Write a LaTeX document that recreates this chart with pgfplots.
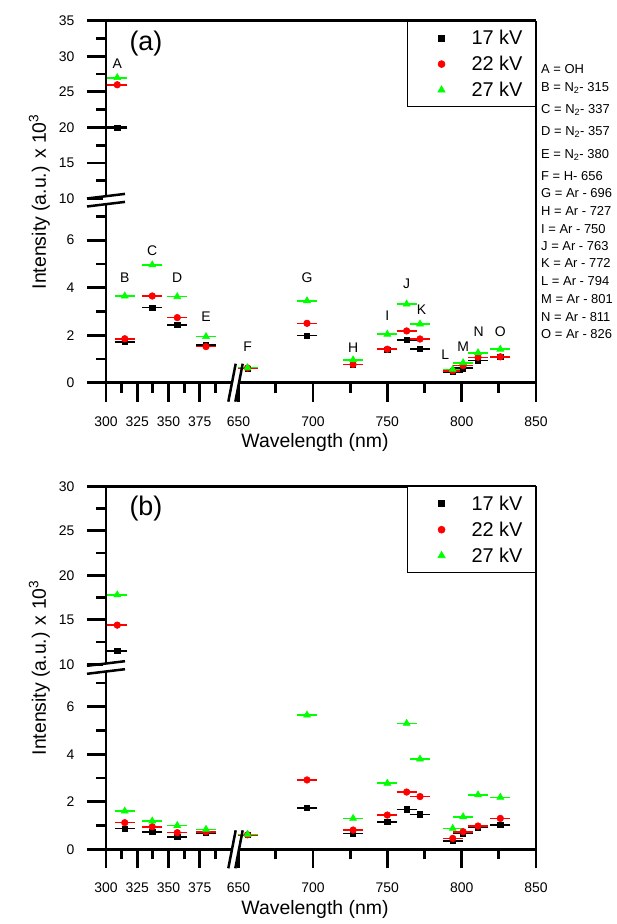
\documentclass[border=0pt]{standalone}
\usepackage{pgfplots}
\pgfplotsset{compat=1.18}
\usepackage{pgfplotstable}
\usepackage{fontspec}
\setmainfont{Liberation Sans}
\definecolor{lgreen}{RGB}{0,255,0}
\definecolor{lred}{RGB}{255,0,0}

% columns: wavelength, 17 kV, err, 22 kV, err, 27 kV, err
\pgfplotstableread{
lam k17 e17 k22 e22 k27 e27
309 20.0 0.35 26.0 0.35 27.0 0.35
315 1.71 0.08 1.85 0.08 3.65 0.08
337 3.17 0.08 3.65 0.08 4.96 0.08
357 2.43 0.08 2.74 0.08 3.62 0.08
380 1.58 0.08 1.52 0.08 1.94 0.08
656 0.60 0.06 0.62 0.06 0.63 0.06
696 1.98 0.08 2.50 0.08 3.45 0.08
727 0.76 0.08 0.77 0.08 0.96 0.08
750 1.40 0.08 1.41 0.08 2.04 0.08
763 1.80 0.08 2.18 0.08 3.31 0.08
772 1.42 0.08 1.84 0.08 2.47 0.08
794 0.46 0.08 0.50 0.08 0.56 0.08
801 0.61 0.08 0.72 0.08 0.84 0.08
811 0.93 0.08 1.07 0.08 1.26 0.08
826 1.08 0.08 1.09 0.08 1.41 0.08
}\dataA

\pgfplotstableread{
lam k17 e17 k22 e22 k27 e27
309 11.5 0.3 14.4 0.3 17.8 0.3
315 0.87 0.08 1.12 0.08 1.61 0.08
337 0.74 0.08 0.95 0.08 1.19 0.08
357 0.51 0.08 0.70 0.08 1.00 0.08
380 0.68 0.08 0.74 0.08 0.84 0.08
656 0.60 0.06 0.61 0.06 0.63 0.06
696 1.75 0.08 2.92 0.08 5.65 0.08
727 0.67 0.08 0.81 0.08 1.30 0.08
750 1.16 0.08 1.44 0.08 2.78 0.08
763 1.68 0.08 2.41 0.08 5.30 0.08
772 1.47 0.08 2.22 0.08 3.80 0.08
794 0.36 0.08 0.46 0.08 0.88 0.08
801 0.66 0.08 0.74 0.08 1.37 0.08
811 0.91 0.08 0.98 0.08 2.29 0.08
826 1.02 0.08 1.30 0.08 2.19 0.08
}\dataB

\pgfplotsset{
  common/.style={
    scale only axis, width=430bp, height=362bp,
    xmin=300, xmax=850, ymin=0,
    x coord trafo/.code={\pgfmathparse{##1<500 ? (##1-300)*1.25 : 132.6+(##1-650)*1.487}},
    xtick={300,325,350,375,650,700,750,800,850},
    xticklabels={300,325,350,375,650,700,750,800,850},
    minor xtick={312.5,337.5,362.5,387.5,675,725,775,825},
    xtick pos=bottom, ytick pos=left,
    tick align=outside,
    major tick length=19bp, minor tick length=10bp,
    every axis/.append style={line width=2.8bp},
    every axis plot/.append style={line width=0.6bp},
    separate axis lines,
    tick style={black, line width=2.8bp},
    every major tick/.append style={line width=2.8bp},
    every minor tick/.append style={line width=2.8bp},
    axis line style={line width=2.8bp},
    every outer x axis line/.append style={line width=2.8bp},
    every outer y axis line/.append style={line width=2.8bp},
    tick label style={font=\fontsize{14}{16}\selectfont},
    xticklabel style={yshift=-10bp},
    yticklabel style={xshift=-8bp},
    /pgf/number format/assume math mode=true,
    label style={font=\fontsize{19.5}{22}\selectfont},
    xlabel={Wavelength (nm)},
    ylabel={Intensity (a.u.) x 10\textsuperscript{3}},
    xlabel style={at={(axis description cs:0.486,-0.166)}, anchor=center},
    ylabel style={at={(axis description cs:-0.155,0.5)}, anchor=center},
    clip=false,
    legend cell align=left,
    legend style={at={(rel axis cs:1,1)}, anchor=north east, draw=black,
      line width=1bp, fill=white, font=\fontsize{20}{24}\selectfont,
      inner xsep=0bp, inner ysep=8bp, nodes={inner xsep=0bp, inner ysep=1bp},
      row sep=8bp},
  },
  errs/.style={error bars/y dir=both, error bars/y explicit,
    error bars/error mark=|,
    error bars/error bar style={line width=1.3bp, #1},
    error bars/error mark options={line width=1.4bp, #1, mark size=10bp}},
  s17/.style={only marks, mark=square*, mark size=2.6bp, color=black, errs=black,
    legend image code/.code={\path[draw=none] (-34bp,0bp) -- (30bp,0bp); \draw[only marks, mark size=3bp] plot coordinates {(0bp,0bp)};}},
  s22/.style={only marks, mark=*, mark size=3.3bp, color=lred, errs=lred,
    legend image code/.code={\path[draw=none] (-34bp,0bp) -- (30bp,0bp); \draw[only marks, mark size=3.5bp] plot coordinates {(0bp,0bp)};}},
  s27/.style={only marks, mark=triangle*, mark size=4bp, color=lgreen, errs=lgreen,
    legend image code/.code={\path[draw=none] (-34bp,0bp) -- (30bp,0bp); \draw[only marks, mark size=4.2bp] plot coordinates {(0bp,0bp)};}},
}

\begin{document}
\begin{tikzpicture}
\useasboundingbox (0bp,0bp) rectangle (617bp,924bp);

% ---------------- panel (a) ----------------
\begin{axis}[common, at={(106bp,541.3bp)}, anchor=south west,
  ymax=35,
  y coord trafo/.code={\pgfmathparse{#1<9 ? #1*23.75 : 184+(#1-10)*7.12}},
  ytick={0,2,4,6,10,15,20,25,30,35},
  yticklabels={0,2,4,6,10,15,20,25,30,35},
  minor ytick={1,3,5,7,12.5,17.5,22.5,27.5,32.5},
]
\addplot[s17] table[x=lam, y=k17, y error=e17] {\dataA};
\addlegendentry{17 kV\hspace*{13bp}}
\addplot[s22] table[x=lam, y=k22, y error=e22] {\dataA};
\addlegendentry{22 kV\hspace*{13bp}}
\addplot[s27] table[x=lam, y=k27, y error=e27] {\dataA};
\addlegendentry{27 kV\hspace*{13bp}}
\begin{scope}[font=\fontsize{14}{16}\selectfont]
\node at (axis cs:309,29) {A};
\node at (axis cs:315,4.4) {B};
\node at (axis cs:337,5.55) {C};
\node at (axis cs:357,4.42) {D};
\node at (axis cs:380,2.78) {E};
\node at (axis cs:656,1.52) {F};
\node at (axis cs:696,4.4) {G};
\node at (axis cs:727,1.49) {H};
\node at (axis cs:750,2.81) {I};
\node at (axis cs:763,4.18) {J};
\node at (axis cs:773,3.09) {K};
\node at (axis cs:789,1.17) {L};
\node at (axis cs:801,1.52) {M};
\node at (axis cs:811.5,2.15) {N};
\node at (axis cs:826,2.15) {O};
\end{scope}
\coordinate (xbA) at (axis cs:403.6,0);
\coordinate (ybA) at (axis cs:300,9.79);
\end{axis}

% breaks (a)
\fill[white] ([shift={(-3.5bp,-3.5bp)}]xbA) rectangle ([shift={(3.5bp,3.5bp)}]xbA);
\draw[line width=2.5bp] ([shift={(-7.2bp,-19bp)}]xbA) -- ([shift={(0.2bp,19bp)}]xbA);
\draw[line width=2.5bp] ([shift={(-0.2bp,-19bp)}]xbA) -- ([shift={(7.2bp,19bp)}]xbA);
\fill[white] ([shift={(-3.5bp,-4bp)}]ybA) rectangle ([shift={(3.5bp,4bp)}]ybA);
\draw[line width=2.5bp] ([shift={(-19bp,1.7bp)}]ybA) -- ([shift={(19bp,6.3bp)}]ybA);
\draw[line width=2.5bp] ([shift={(-19bp,-6.3bp)}]ybA) -- ([shift={(19bp,-1.7bp)}]ybA);

\node[anchor=west, font=\fontsize{27}{30}\selectfont] at (126bp,880bp) {(a)};

% annotation list
\begin{scope}[font=\fontsize{13}{15}\selectfont]
\node[anchor=base west, inner sep=0pt] at (541bp,850.8bp) {A = OH};
\node[anchor=base west, inner sep=0pt] at (541bp,832.8bp) {B = N\textsubscript{2}- 315};
\node[anchor=base west, inner sep=0pt] at (541bp,810.8bp) {C = N\textsubscript{2}- 337};
\node[anchor=base west, inner sep=0pt] at (541bp,788.8bp) {D = N\textsubscript{2}- 357};
\node[anchor=base west, inner sep=0pt] at (541bp,765.8bp) {E = N\textsubscript{2}- 380};
\node[anchor=base west, inner sep=0pt] at (541bp,743.8bp) {F = H- 656};
\node[anchor=base west, inner sep=0pt] at (541bp,726.8bp) {G = Ar - 696};
\node[anchor=base west, inner sep=0pt] at (541bp,708.8bp) {H = Ar - 727};
\node[anchor=base west, inner sep=0pt] at (541bp,690.8bp) {I = Ar - 750};
\node[anchor=base west, inner sep=0pt] at (541bp,673.8bp) {J = Ar - 763};
\node[anchor=base west, inner sep=0pt] at (541bp,656.8bp) {K = Ar - 772};
\node[anchor=base west, inner sep=0pt] at (541bp,638.8bp) {L = Ar - 794};
\node[anchor=base west, inner sep=0pt] at (541bp,620.8bp) {M = Ar - 801};
\node[anchor=base west, inner sep=0pt] at (541bp,602.8bp) {N = Ar - 811};
\node[anchor=base west, inner sep=0pt] at (541bp,585.8bp) {O = Ar - 826};
\end{scope}

% ---------------- panel (b) ----------------
\begin{axis}[common, at={(106bp,74.7bp)}, anchor=south west,
  height=363bp,
  ymax=30,
  y coord trafo/.code={\pgfmathparse{#1<9 ? #1*23.75 : 185+(#1-10)*8.9}},
  ytick={0,2,4,6,10,15,20,25,30},
  yticklabels={0,2,4,6,10,15,20,25,30},
  minor ytick={1,3,5,7,12.5,17.5,22.5,27.5},
]
\addplot[s17] table[x=lam, y=k17, y error=e17] {\dataB};
\addlegendentry{17 kV\hspace*{13bp}}
\addplot[s22] table[x=lam, y=k22, y error=e22] {\dataB};
\addlegendentry{22 kV\hspace*{13bp}}
\addplot[s27] table[x=lam, y=k27, y error=e27] {\dataB};
\addlegendentry{27 kV\hspace*{13bp}}
\coordinate (xbB) at (axis cs:403.6,0);
\coordinate (ybB) at (axis cs:300,9.64);
\end{axis}

% breaks (b)
\fill[white] ([shift={(-3.5bp,-3.5bp)}]xbB) rectangle ([shift={(3.5bp,3.5bp)}]xbB);
\draw[line width=2.5bp] ([shift={(-7.2bp,-19bp)}]xbB) -- ([shift={(0.2bp,19bp)}]xbB);
\draw[line width=2.5bp] ([shift={(-0.2bp,-19bp)}]xbB) -- ([shift={(7.2bp,19bp)}]xbB);
\fill[white] ([shift={(-3.5bp,-4bp)}]ybB) rectangle ([shift={(3.5bp,4bp)}]ybB);
\draw[line width=2.5bp] ([shift={(-19bp,1.7bp)}]ybB) -- ([shift={(19bp,6.3bp)}]ybB);
\draw[line width=2.5bp] ([shift={(-19bp,-6.3bp)}]ybB) -- ([shift={(19bp,-1.7bp)}]ybB);

\node[anchor=west, font=\fontsize{27}{30}\selectfont] at (126bp,415bp) {(b)};
\end{tikzpicture}
\end{document}
